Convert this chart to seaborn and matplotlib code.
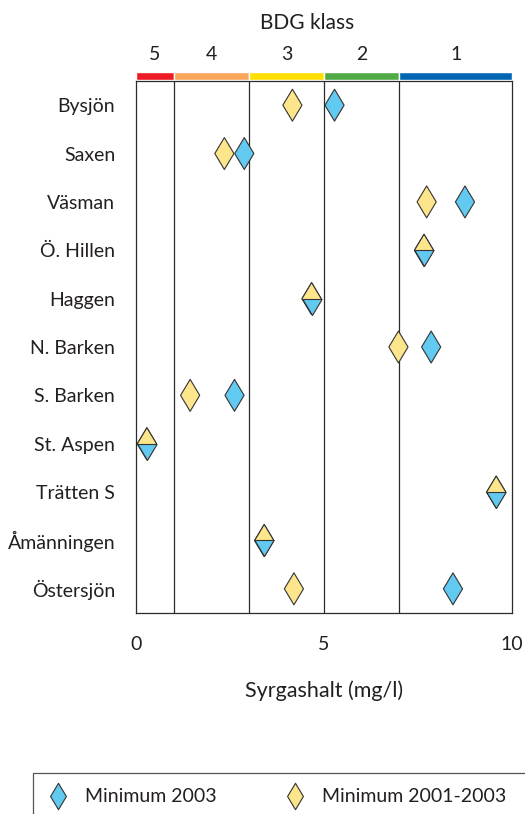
import numpy as np
import pandas as pd
import matplotlib
matplotlib.use("Agg")
import matplotlib.pyplot as plt
import matplotlib.transforms as mtransforms
from matplotlib.path import Path
from matplotlib.lines import Line2D
from matplotlib.patches import Rectangle
import seaborn as sns

# Lakes, top to bottom
lakes = ["Bysjön", "Saxen", "Väsman", "Ö. Hillen", "Haggen", "N. Barken",
         "S. Barken", "St. Aspen", "Trätten S", "Åmänningen", "Östersjön"]
# Minimum oxygen concentration (mg/l)
min_2003 = [5.28, 2.88, 8.75, 7.66, 4.67, 7.85, 2.62, 0.29, 9.58, 3.41, 8.43]
min_2001_2003 = [4.16, 2.35, 7.73, 7.66, 4.67, 6.98, 1.44, 0.29, 9.58, 3.41, 4.20]

series_names = ["Minimum 2003", "Minimum 2001-2003"]
series_colors = ["#62C9F1", "#FDE58C"]

# BDG classes along the oxygen axis
class_edges = [0, 1, 3, 5, 7, 10]
class_labels = ["5", "4", "3", "2", "1"]
class_colors = ["#ED1C24", "#F9A65A", "#FFDE00", "#50AA46", "#0066B3"]

x_ticks = [0, 5, 10]

sns.set_style("white")
plt.rcParams["font.family"] = ["Lato", "DejaVu Sans"]
text_color = "#231F20"
line_color = "#2B2B2B"

W, H = 525, 814
fig = plt.figure(figsize=(W / 100, H / 100), dpi=100)

def px_box(x0, y0, x1, y1):
    return [x0 / W, 1 - y1 / H, (x1 - x0) / W, (y1 - y0) / H]

ax = fig.add_axes(px_box(136, 81, 512, 613))

# Diamond marker shapes: full and lower half
diamond = Path([(0, 1), (0.6, 0), (0, -1), (-0.6, 0), (0, 1)],
               [Path.MOVETO, Path.LINETO, Path.LINETO, Path.LINETO, Path.CLOSEPOLY])
lower_half = Path([(-0.6, 0), (0.6, 0), (0, -1), (-0.6, 0)],
                  [Path.MOVETO, Path.LINETO, Path.LINETO, Path.CLOSEPOLY])
marker_area = 23.0 ** 2

df = pd.DataFrame({
    "lake": lakes * 2,
    "value": min_2003 + min_2001_2003,
    "series": [series_names[0]] * len(lakes) + [series_names[1]] * len(lakes),
})

sns.scatterplot(data=df, x="value", y="lake", hue="series",
                hue_order=series_names, palette=series_colors,
                marker=diamond, s=marker_area, edgecolor="#333333",
                linewidth=0.8, legend=False, ax=ax, zorder=3)

# Where both minima coincide, show the diamond split in two colours
same = df.iloc[:len(lakes)].reset_index(drop=True)
same = same[np.isclose(min_2003, min_2001_2003)]
sns.scatterplot(data=same, x="value", y="lake", color=series_colors[0],
                marker=lower_half, s=marker_area, edgecolor="#333333",
                linewidth=0.8, legend=False, ax=ax, zorder=4)

for e in class_edges[1:-1]:
    ax.axvline(e, color=line_color, lw=0.9, zorder=1)

ax.set_xlim(0, 10)
ax.set_ylim(len(lakes) - 0.5, -0.5)
ax.set_xticks(x_ticks)
ax.set_xticks(range(11), minor=True)
ax.set_yticks(range(len(lakes)))
ax.set_yticklabels(lakes)
ax.set_yticks(np.arange(-0.5, len(lakes), 1.0), minor=True)
ax.tick_params(axis="x", which="both", direction="out", length=6.5, width=0.8,
               color=line_color, pad=10, labelsize=14, labelcolor=text_color)
ax.tick_params(axis="y", which="major", length=0, pad=15, labelsize=14,
               labelcolor=text_color)
ax.tick_params(axis="y", which="minor", direction="out", length=6.5, width=0.8,
               color=line_color)
ax.set_ylabel("")
ax.set_xlabel("Syrgashalt (mg/l)", fontsize=15.5, color=text_color, labelpad=20)
for s in ax.spines.values():
    s.set_color(line_color)
    s.set_linewidth(0.9)

# Colour band for the BDG classes
cax = fig.add_axes(px_box(136, 72, 512, 80))
cax.barh(0, width=np.diff(class_edges), left=class_edges[:-1], height=1,
         color=class_colors, align="center")
cax.set_xlim(0, 10)
cax.set_ylim(-0.5, 0.5)
cax.axis("off")
lab_tr = mtransforms.blended_transform_factory(cax.transData, fig.transFigure)
for lo, hi, lab in zip(class_edges[:-1], class_edges[1:], class_labels):
    cax.text((lo + hi) / 2, 1 - 55 / H, lab, transform=lab_tr, ha="center",
             va="center", fontsize=14, color=text_color)
fig.text(307 / W, 1 - 23 / H, "BDG klass", ha="center", va="center",
         fontsize=15, color=text_color)

# Legend box and entries
fig.patches.append(Rectangle((33 / W, -0.05), 1.0, (1 - 773 / H) + 0.05,
                             transform=fig.transFigure, fill=False,
                             edgecolor="#555555", lw=0.9))
for name, col, x0 in zip(series_names, series_colors, [48, 285]):
    h = Line2D([], [], ls="", marker=diamond, markersize=19,
               markerfacecolor=col, markeredgecolor="#333333",
               markeredgewidth=0.8)
    fig.legend([h], [name], loc="center left",
               bbox_to_anchor=(x0 / W, 1 - 797 / H), frameon=False,
               borderpad=0, borderaxespad=0, handlelength=1.0,
               handletextpad=0.9, fontsize=14, labelcolor=text_color)

fig.savefig("out.png", dpi=100)
